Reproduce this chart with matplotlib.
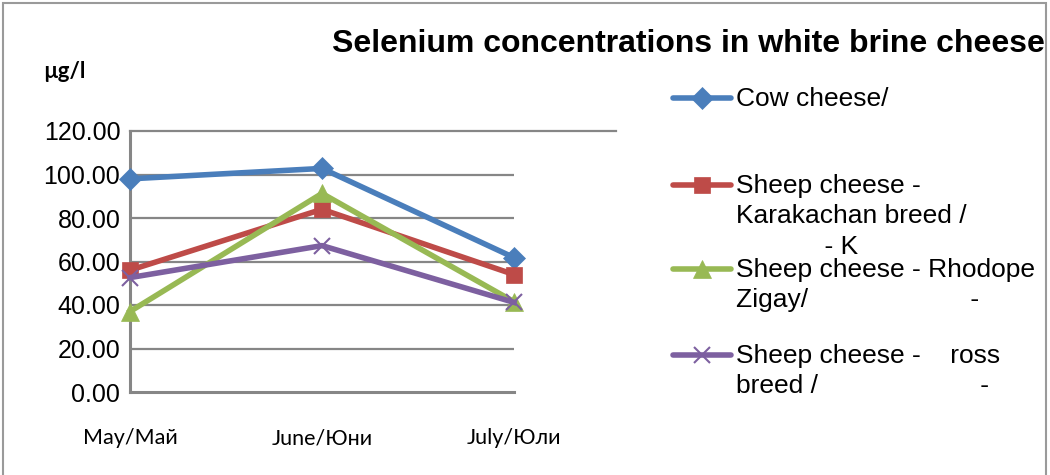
import matplotlib
matplotlib.use('Agg')
import matplotlib.pyplot as plt
from matplotlib.lines import Line2D
from matplotlib.patches import Rectangle

months = ['May/Май', 'June/Юни', 'July/Юли']
cow = [98.0, 102.8, 61.8]
karakachan = [56.0, 84.0, 54.0]
rhodope = [37.0, 91.3, 41.5]
cross = [52.6, 67.3, 41.2]
y_ticks = [0, 20, 40, 60, 80, 100, 120]

legend_labels = [
    'Cow cheese/',
    'Sheep cheese -\nKarakachan breed /\n            - K',
    'Sheep cheese - Rhodope\nZigay/                      -',
    'Sheep cheese -    ross\nbreed /                      -',
]
colors = ['#4A7EBB', '#BE4B48', '#98B954', '#7D60A0']
markers = ['D', 's', '^', 'x']
msizes = [11, 12, 13, 12]

ARIAL = ['Liberation Sans', 'DejaVu Sans']
CALIBRI = ['Lato', 'DejaVu Sans']

fig = plt.figure(figsize=(10.5, 4.75), dpi=100)
ax = fig.add_axes([130 / 1050, 1 - 392 / 475, 384 / 1050, 261 / 475])

x = list(range(len(months)))
for vals, c, m, ms in zip([cow, karakachan, rhodope, cross], colors, markers, msizes):
    ax.plot(x, vals, color=c, lw=4, marker=m, ms=ms, mew=1.5 if m == 'x' else 0.5,
            mec=c, mfc=c, zorder=3, clip_on=False, solid_joinstyle='round')

ax.set_xlim(0, 2)
ax.set_ylim(0, 120)
ax.set_yticks(y_ticks)
ax.set_yticklabels([f'{v:.2f}' for v in y_ticks], family=ARIAL, fontsize=18)
ax.set_xticks(x)
ax.set_xticklabels(months, family=CALIBRI, fontsize=15.5)
ax.tick_params(axis='both', length=0)
ax.tick_params(axis='x', pad=26)
ax.tick_params(axis='y', pad=7)

for v in y_ticks[1:-1]:
    ax.axhline(v, color='#868686', lw=1.6, zorder=1)
# top gridline runs on past the last category
ax.plot([0, 2.53], [120, 120], color='#868686', lw=1.6, clip_on=False, zorder=1)
for side in ['top', 'right']:
    ax.spines[side].set_visible(False)
for side in ['left', 'bottom']:
    ax.spines[side].set_color('#868686')
    ax.spines[side].set_linewidth(2.2)

fig.text(688 / 1050, 1 - 44 / 475, 'Selenium concentrations in white brine cheese',
         family=ARIAL, fontweight='bold', fontsize=23, ha='center', va='center')
fig.text(43 / 1050, 1 - 72 / 475, 'µg/l', family=CALIBRI, fontweight='bold',
         fontsize=16, ha='left', va='center')

# legend drawn by hand on the right
leg_y = [98, 185, 269, 355]
for lab, c, m, ms, yy in zip(legend_labels, colors, markers, msizes, leg_y):
    yf = 1 - yy / 475
    fig.add_artist(Line2D([673 / 1050, 731 / 1050], [yf, yf], color=c, lw=4,
                          solid_capstyle='round', transform=fig.transFigure))
    fig.add_artist(Line2D([702 / 1050], [yf], marker=m, ms=ms, color=c, mfc=c, mec=c,
                          mew=1.5 if m == 'x' else 0.5, transform=fig.transFigure))
    fig.text(736 / 1050, yf + 11 / 475, lab, family=ARIAL, fontsize=19,
             ha='left', va='top', linespacing=1.33)

fig.add_artist(Rectangle((3 / 1050, -0.02), 1043 / 1050, 1 - 3 / 475 + 0.02,
                         transform=fig.transFigure, fill=False, ec='#9A9A9A', lw=1.5))

fig.savefig('out.png', dpi=100)
